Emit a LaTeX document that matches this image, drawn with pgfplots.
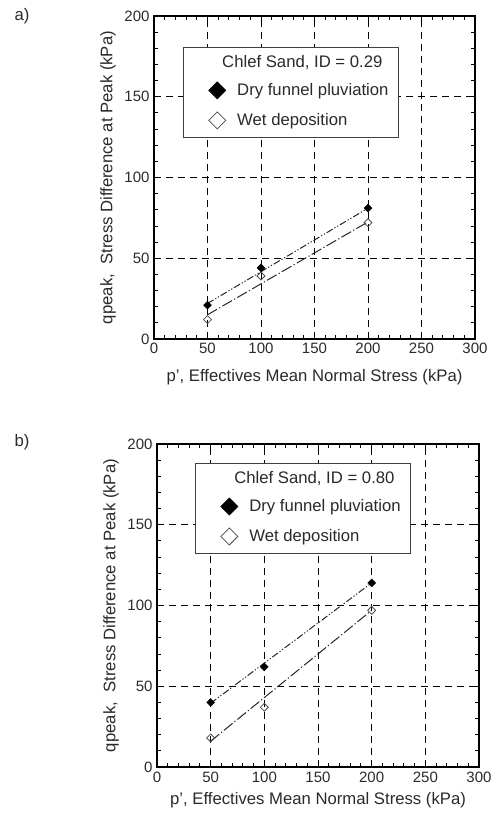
\documentclass[border=0pt]{standalone}
\usepackage{fontspec}
\setmainfont{Liberation Sans}
\usepackage{pgfplots}
\pgfplotsset{compat=1.18}

\pgfplotstableread{
x y
50 21
100 44
200 81
}\dryA
\pgfplotstableread{
x y
50 12
100 39
200 72
}\wetA
\pgfplotstableread{
x y
50 40
100 62
200 114
}\dryB
\pgfplotstableread{
x y
50 18
100 37
200 97
}\wetB

\definecolor{txt}{HTML}{2A2A2A}
\newcommand{\fs}{\fontsize{16.7bp}{19bp}\selectfont}
\newcommand{\ft}{\fontsize{15bp}{17bp}\selectfont}

\pgfplotsset{
  myax/.style={
    scale only axis, height=323bp,
    xmin=0, xmax=300, ymin=0, ymax=200,
    xtick={0,50,...,300}, ytick={0,50,...,200},
    minor x tick num=4, minor y tick num=4,
    tick align=inside,
    grid=major,
    major grid style={black, line width=1pt, dash pattern=on 7bp off 5bp},
    major tick length=5bp, minor tick length=4bp,
    axis line style={black, line width=1.4pt},
    every tick/.style={black, line width=0.9pt},
    tick label style={font=\ft, text=txt},
    xticklabel style={yshift=-1bp},
    yticklabel style={xshift=-1bp},
    /pgf/number format/assume math mode=true,
    every axis y label/.style={at={(axis description cs:0,0.5)}, xshift=-46bp, rotate=90, anchor=center, font=\fs, text=txt},
    ylabel={qpeak,\ \ Stress Difference at Peak (kPa)},
    xlabel={p’, Effectives Mean Normal Stress (kPa)},
    legend style={anchor=north west, draw=black!75, line width=0.7pt,
      font=\fs, text=txt,
      inner xsep=10bp, inner ysep=8bp, row sep=13bp, column sep=0pt,
      nodes={inner sep=0pt, anchor=west}},
    legend cell align=left,
  },
  drymk/.style={only marks, mark=square*, mark size=2.8bp, mark options={rotate=45, fill=black, draw=black}},
  wetmk/.style={only marks, mark=square, mark size=2.8bp, mark options={rotate=45, fill=white, draw=black!70, line width=0.8pt}},
  legdry/.style={legend image code/.code={\path[draw=none, fill=none] (0,-6bp) rectangle (44bp,6bp); \draw[only marks, mark=square*, mark size=6bp, mark options={rotate=45, fill=black, draw=black}] plot coordinates {(24bp,0)};}},
  legwet/.style={legend image code/.code={\path[draw=none, fill=none] (0,-6bp) rectangle (44bp,6bp); \draw[only marks, mark=square, mark size=6bp, mark options={rotate=45, fill=white, draw=black!70, line width=0.8pt}] plot coordinates {(24bp,0)};}},
  fitdry/.style={black!85, line width=1bp, dash pattern=on 7bp off 2bp on 1.2bp off 2bp on 1.2bp off 2bp},
  fitwet/.style={black!85, line width=1bp, dash pattern=on 11bp off 2.5bp on 1.2bp off 2.5bp},
}

\begin{document}
\begin{tikzpicture}
\path[use as bounding box] (0,0) rectangle (493bp,-814bp);

\node[font=\fs, text=txt] at (22bp,-16bp) {a)};
\node[font=\fs, text=txt] at (22bp,-442bp) {b)};

% Panel a
\begin{axis}[myax, width=321bp, at={(154bp,-339bp)}, anchor=south west,
  every axis x label/.style={at={(axis description cs:0.5,0)}, yshift=-38bp, anchor=center, font=\fs, text=txt},
  legend style={at={(rel axis cs:0.09,0.904)}}]
\addplot[fitdry, forget plot] coordinates {(50,22) (200,81)};
\addplot[fitwet, forget plot] coordinates {(50,15) (200,72.5)};
\addplot[drymk, forget plot] table {\dryA};
\addplot[wetmk, forget plot] table {\wetA};
\addlegendimage{empty legend}
\addlegendentry{\hspace{-15bp}Chlef Sand, ID = 0.29}
\addlegendimage{legdry}
\addlegendentry{Dry funnel pluviation}
\addlegendimage{legwet}
\addlegendentry{Wet deposition}
\end{axis}

% Panel b
\begin{axis}[myax, width=322bp, at={(157bp,-767bp)}, anchor=south west,
  every axis x label/.style={at={(axis description cs:0.5,0)}, yshift=-33bp, anchor=center, font=\fs, text=txt},
  legend style={at={(rel axis cs:0.118,0.941)}}]
\addplot[fitdry, forget plot] coordinates {(50,39.5) (200,114)};
\addplot[fitwet, forget plot] coordinates {(50,16) (200,97)};
\addplot[drymk, forget plot] table {\dryB};
\addplot[wetmk, forget plot] table {\wetB};
\addlegendimage{empty legend}
\addlegendentry{\hspace{-15bp}Chlef Sand, ID = 0.80}
\addlegendimage{legdry}
\addlegendentry{Dry funnel pluviation}
\addlegendimage{legwet}
\addlegendentry{Wet deposition}
\end{axis}
\end{tikzpicture}
\end{document}
